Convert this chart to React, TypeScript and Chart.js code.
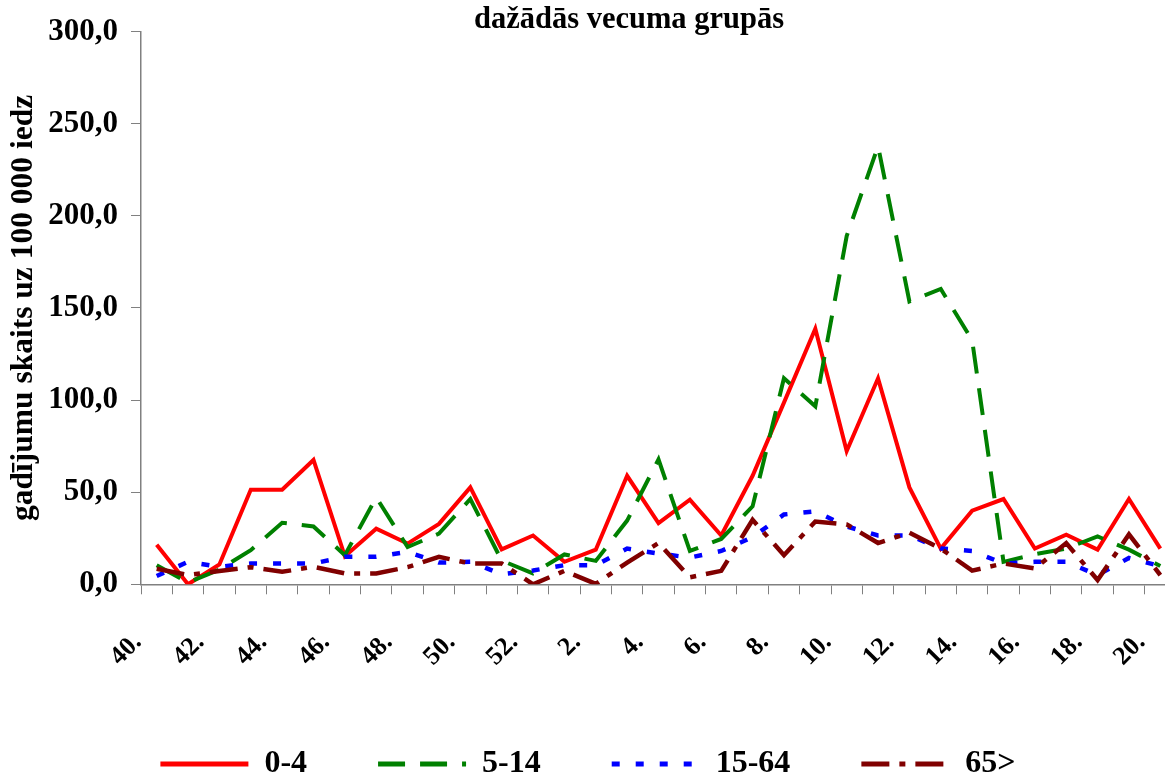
import React, { useEffect, useRef } from 'react';
import { Chart, registerables } from 'chart.js';

Chart.register(...registerables);

const weeks = [
  '40.', '41.', '42.', '43.', '44.', '45.', '46.', '47.', '48.', '49.', '50.', '51.', '52.',
  '1.', '2.', '3.', '4.', '5.', '6.', '7.', '8.', '9.', '10.', '11.', '12.', '13.', '14.',
  '15.', '16.', '17.', '18.', '19.', '20.',
];

const age0_4 = [21.5, 0, 10.8, 51.3, 51.3, 67.5, 15.2, 30.2, 22.1, 32.8, 52.6, 19.0, 26.5, 12.2, 18.8, 58.9, 33.2, 45.9, 26.5, 58.9, 98.6, 138.7, 72.3, 111.8, 52.6, 19.4, 40.0, 46.3, 19.4, 26.9, 18.8, 46.3, 19.4];
const age5_14 = [10.4, 1.0, 8.0, 18.5, 33.4, 31.4, 15.8, 47.2, 20.2, 27.5, 46.3, 12.9, 5.9, 16.2, 12.7, 34.6, 67.8, 18.1, 24.6, 42.3, 111.8, 96.6, 189.0, 237.8, 153.5, 160.3, 132.5, 12.2, 16.3, 19.4, 26.0, 18.8, 9.9];
const age15_64 = [4.5, 12.2, 9.5, 11.3, 11.3, 11.3, 14.9, 14.9, 17.6, 11.8, 12.2, 5.5, 7.5, 10.4, 10.4, 19.4, 16.7, 14.5, 18.1, 25.6, 37.9, 39.6, 31.4, 26.5, 26.5, 19.4, 18.1, 11.3, 12.2, 12.2, 5.0, 14.3, 9.9];
const age65 = [8.4, 5.0, 7.2, 9.3, 6.8, 9.5, 5.9, 5.9, 9.3, 14.9, 11.3, 11.3, 0, 7.3, 0.2, 11.8, 22.4, 3.8, 7.3, 35.0, 15.8, 34.1, 32.5, 22.4, 28.0, 19.4, 7.4, 11.3, 8.6, 22.4, 2.3, 27.1, 5.0];

const seriesLabels = ['0-4', '5-14', '15-64', '65>'];
const chartTitle = 'dažādās vecuma grupās';
const yAxisTitle = 'gadījumu skaits uz 100 000 iedz';

const FONT = '"Liberation Serif", "Times New Roman", serif';

export default function App() {
  const ref = useRef<HTMLCanvasElement>(null);

  useEffect(() => {
    if (!ref.current) return;
    const titlePlugin = {
      id: 'topTitle',
      afterDraw(chart: any) {
        const ctx = chart.ctx;
        ctx.save();
        ctx.font = `bold 30.5px ${FONT}`;
        ctx.fillStyle = '#000';
        ctx.textAlign = 'center';
        ctx.textBaseline = 'alphabetic';
        ctx.fillText(chartTitle, 629, 28);
        ctx.restore();
      },
    };

    const chart = new Chart(ref.current, {
      type: 'line',
      data: {
        labels: weeks,
        datasets: [
          { label: seriesLabels[0], data: age0_4, borderColor: '#FF0000', backgroundColor: '#FF0000', borderWidth: 4, order: 4 },
          { label: seriesLabels[1], data: age5_14, borderColor: '#008000', backgroundColor: '#008000', borderWidth: 4, borderDash: [27, 15], order: 3 },
          { label: seriesLabels[2], data: age15_64, borderColor: '#0000FF', backgroundColor: '#0000FF', borderWidth: 4.5, borderDash: [8, 16], order: 2 },
          { label: seriesLabels[3], data: age65, borderColor: '#800000', backgroundColor: '#800000', borderWidth: 4.5, borderDash: [28, 10, 6, 10], order: 1 },
        ],
      },
      options: {
        animation: false,
        responsive: false,
        layout: { padding: { top: 27, left: 0, right: 0, bottom: 0 } },
        elements: { point: { radius: 0, hoverRadius: 0 }, line: { tension: 0, fill: false } },
        plugins: {
          title: { display: false },
          tooltip: { enabled: false },
          legend: {
            position: 'bottom',
            labels: {
              usePointStyle: true,
              pointStyleWidth: 88,
              padding: 71,
              color: '#000',
              font: { family: FONT, size: 32, weight: 'bold' },
              generateLabels: (c: any) =>
                c.data.datasets.map((ds: any, i: number) => ({
                  text: ds.label,
                  fillStyle: ds.borderColor,
                  strokeStyle: ds.borderColor,
                  lineWidth: 5,
                  lineDash: ds.borderDash || [],
                  lineCap: 'butt',
                  pointStyle: 'line',
                  hidden: false,
                  datasetIndex: i,
                  fontColor: '#000',
                })),
            },
          },
        },
        scales: {
          x: {
            offset: true,
            grid: { display: true, drawOnChartArea: false, drawTicks: true, tickLength: 10, color: '#808080', offset: true },
            border: { display: true, color: '#808080', width: 1.5 },
            ticks: {
              autoSkip: false,
              maxRotation: 45,
              minRotation: 45,
              padding: 33,
              labelOffset: -19,
              color: '#000',
              font: { family: FONT, size: 26, weight: 'bold' },
              callback: (_v: any, i: number) => (i % 2 === 0 ? weeks[i] : ''),
            },
            afterFit: (s: any) => {
              s.height = 92.7;
              s.paddingLeft = 0;
              s.paddingRight = 0;
            },
          },
          y: {
            min: 0,
            max: 300,
            grid: { display: true, drawOnChartArea: false, drawTicks: true, tickLength: 10, color: '#808080' },
            border: { display: true, color: '#808080', width: 1.5 },
            ticks: {
              stepSize: 50,
              padding: 13,
              color: '#000',
              font: { family: FONT, size: 31, weight: 'bold' },
              callback: (v: any) => Number(v).toFixed(1).replace('.', ','),
            },
            title: {
              display: true,
              text: yAxisTitle,
              color: '#000',
              font: { family: FONT, size: 31.5, weight: 'bold' },
              padding: { top: 5, bottom: 0 },
            },
            afterFit: (s: any) => {
              s.width = 141;
            },
          },
        },
      },
      plugins: [titlePlugin],
    });
    return () => chart.destroy();
  }, []);

  return (
    <div style={{ position: 'fixed', left: 0, top: 0, width: 1165, height: 773, overflow: 'hidden', background: '#fff' }}>
      <canvas ref={ref} width={1176} height={790} style={{ display: 'block' }} />
    </div>
  );
}
